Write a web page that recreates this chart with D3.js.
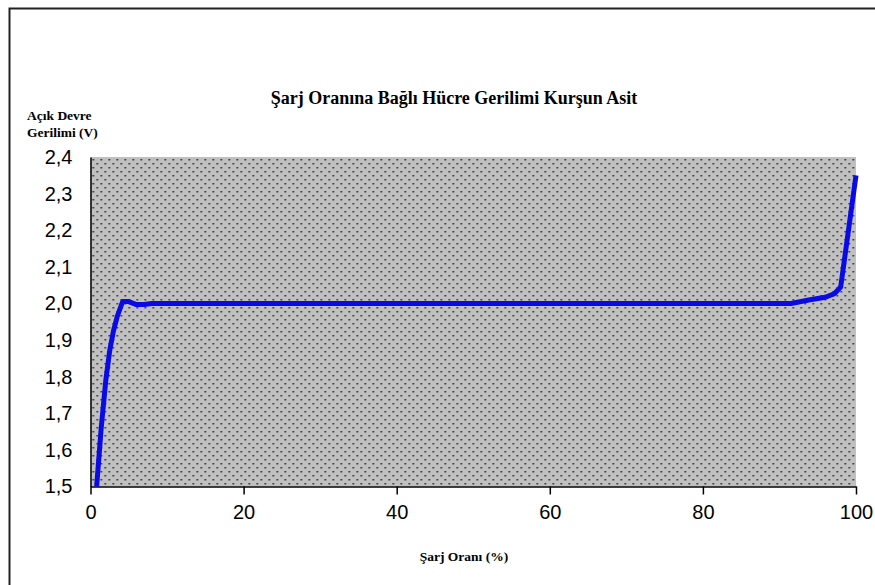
<!DOCTYPE html>
<html>
<head>
<meta charset="utf-8">
<script src="https://cdn.jsdelivr.net/npm/d3@7/dist/d3.min.js"></script>
<style>
  html, body { margin: 0; padding: 0; background: #fff; }
  svg { display: block; }
  .serif { font-family: "Liberation Serif", "DejaVu Serif", "Times New Roman", serif; font-weight: bold; }
  .sans { font-family: "Liberation Sans", Arial, sans-serif; }
</style>
</head>
<body>
<svg id="chart" width="875" height="585"></svg>
<script>
// ---- data ----
const chargePct = [0.8, 1.4, 2.0, 2.5, 3.0, 3.5, 4.2, 5.0, 6.0, 7.0, 8.0, 30, 60, 91.5, 94, 96, 97.2, 98.0, 100];
const cellVoltage = [1.5, 1.66, 1.79, 1.87, 1.925, 1.965, 2.005, 2.005, 1.997, 1.997, 2.0, 2.0, 2.0, 2.0, 2.01, 2.017, 2.027, 2.045, 2.35];
const xTicks = [0, 20, 40, 60, 80, 100];
const yTicks = [1.5, 1.6, 1.7, 1.8, 1.9, 2.0, 2.1, 2.2, 2.3, 2.4];
const yTickLabels = ["1,5", "1,6", "1,7", "1,8", "1,9", "2,0", "2,1", "2,2", "2,3", "2,4"];
const titleText = "Şarj Oranına Bağlı Hücre Gerilimi Kurşun Asit";
const yTitleLines = ["Açık Devre", "Gerilimi (V)"];
const xTitleText = "Şarj Oranı (%)";

// ---- layout ----
const svg = d3.select("#chart");
const L = 90.5, R = 856, T = 157, B = 486.5;
const x = d3.scaleLinear().domain([0, 100]).range([L, R]);
const y = d3.scaleLinear().domain([1.5, 2.4]).range([B, T]);

// outer frame (left and top edges)
svg.append("path")
  .attr("d", `M9.5,585 L9.5,8.5 L875,8.5`)
  .attr("fill", "none").attr("stroke", "#222").attr("stroke-width", 2);

// dotted pattern
const defs = svg.append("defs");
const pat = defs.append("pattern").attr("id", "dots")
  .attr("patternUnits", "userSpaceOnUse")
  .attr("x", L).attr("y", T)
  .attr("width", 8).attr("height", 8);
pat.append("rect").attr("width", 8).attr("height", 8).attr("fill", "#c0c0c0");
pat.append("rect").attr("x", 2).attr("y", 2).attr("width", 1.5).attr("height", 1.5).attr("fill", "#1a1a1a");
pat.append("rect").attr("x", 6).attr("y", 6).attr("width", 1.5).attr("height", 1.5).attr("fill", "#1a1a1a");

svg.append("rect")
  .attr("x", L).attr("y", T)
  .attr("width", R - L).attr("height", B - T)
  .attr("fill", "url(#dots)");

// axes
const xAxis = d3.axisBottom(x).tickValues(xTicks).tickSize(8).tickSizeOuter(0).tickPadding(10)
  .tickFormat(d => String(d));
const gx = svg.append("g").attr("transform", `translate(0,${B})`).call(xAxis);
gx.attr("font-family", null).attr("font-size", null);
gx.select(".domain").attr("stroke", "#000").attr("stroke-width", 1.5);
gx.selectAll(".tick line").attr("stroke", "#000").attr("stroke-width", 1.5);
gx.selectAll(".tick text").attr("class", "sans")
  .attr("font-size", 20).attr("fill", "#000");

const yAxis = d3.axisLeft(y).tickValues(yTicks).tickSize(0).tickSizeOuter(0).tickPadding(18)
  .tickFormat((d, i) => yTickLabels[i]);
const gy = svg.append("g").attr("transform", `translate(${L},0)`).call(yAxis);
gy.attr("font-family", null).attr("font-size", null);
gy.select(".domain").attr("stroke", "#000").attr("stroke-width", 1.5);
gy.selectAll(".tick text").attr("class", "sans")
  .attr("font-size", 20).attr("fill", "#000");

// line
const pts = chargePct.map((c, i) => [c, cellVoltage[i]]);
const line = d3.line().x(d => x(d[0])).y(d => y(d[1])).curve(d3.curveLinear);
svg.append("path")
  .datum(pts)
  .attr("d", line)
  .attr("fill", "none")
  .attr("stroke", "#0a0ae6")
  .attr("stroke-width", 5)
  .attr("stroke-linejoin", "round")
  .attr("stroke-linecap", "butt");

// titles
svg.append("text").attr("class", "serif")
  .attr("x", 454).attr("y", 104)
  .attr("text-anchor", "middle")
  .attr("font-size", 18)
  .attr("fill", "#000")
  .text(titleText);

svg.append("text").attr("class", "serif")
  .attr("font-size", 13.5)
  .attr("fill", "#000")
  .selectAll("tspan").data(yTitleLines).enter().append("tspan")
  .attr("x", 27).attr("y", (d, i) => 120 + i * 17)
  .text(d => d);

svg.append("text").attr("class", "serif")
  .attr("x", 464).attr("y", 561)
  .attr("text-anchor", "middle")
  .attr("font-size", 13.5)
  .attr("fill", "#000")
  .text(xTitleText);
</script>
</body>
</html>
